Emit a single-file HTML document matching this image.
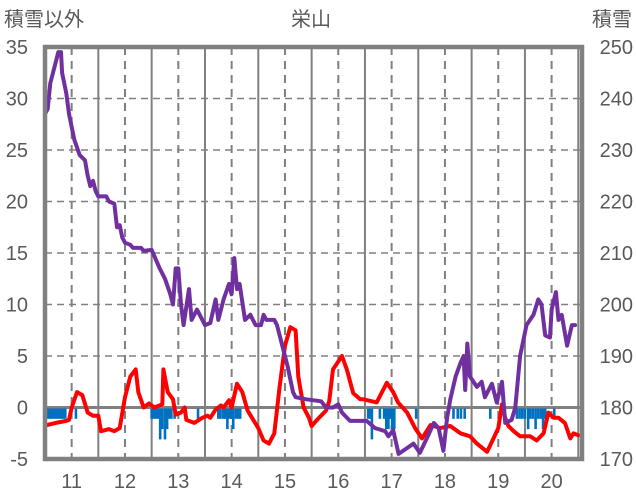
<!DOCTYPE html>
<html><head><meta charset="utf-8"><style>
body{margin:0;background:#fff;}
svg{display:block;font-family:"Liberation Sans","Noto Sans CJK JP",sans-serif;}
</style></head><body>
<svg id="chart" width="636" height="501" viewBox="0 0 636 501" xmlns="http://www.w3.org/2000/svg">
<text x="4" y="26" font-size="20" fill="#595959">積雪以外</text>
<text x="311" y="26" font-size="20" fill="#595959" text-anchor="middle">栄山</text>
<text x="632" y="26" font-size="20" fill="#595959" text-anchor="end">積雪</text>
<g id="grid"></g>
<g id="bars"></g>
<g id="lines"></g>
<g id="axes"></g>
</svg>
<script>
const xTicks=[11,12,13,14,15,16,17,18,19,20];
const leftTicks=[-5,0,5,10,15,20,25,30,35];
const rightTicks=[170,180,190,200,210,220,230,240,250];
const redT=[10.5,10.7,10.9,10.95,11.0,11.1,11.2,11.3,11.4,11.5,11.55,11.7,11.8,11.9,12.0,12.1,12.2,12.25,12.35,12.45,12.55,12.7,12.72,12.8,12.9,12.95,13.05,13.12,13.15,13.3,13.45,13.55,13.6,13.7,13.8,13.85,13.95,14.0,14.1,14.2,14.3,14.5,14.6,14.7,14.8,14.9,15.0,15.1,15.2,15.25,15.35,15.45,15.5,15.6,15.77,15.83,15.9,16.07,16.16,16.28,16.41,16.47,16.72,16.91,17.03,17.12,17.29,17.44,17.57,17.73,17.91,18.1,18.29,18.47,18.6,18.79,18.91,19.0,19.07,19.13,19.19,19.29,19.41,19.6,19.72,19.85,19.94,20.04,20.13,20.25,20.35,20.41,20.5];
const redV=[-1.75,-1.5,-1.3,-1.2,0,1.5,1.2,-0.5,-0.8,-0.8,-2.3,-2.1,-2.3,-2,1,3,3.7,1.5,0,0.4,0,0.3,3.7,1.5,0.8,-0.7,-0.5,0,-1.2,-1.5,-1,-0.8,-1,-0.2,0.2,0,0.7,0,2.3,1.5,-0.3,-2,-3.2,-3.5,-2.5,2,6,7.8,7.5,3,0,-1,-1.8,-1.2,-0.3,0.6,3.7,5,3.7,1.4,0.8,0.8,0.5,2.4,1.5,0.5,-0.5,-2,-3,-1.7,-2,-1.8,-2.5,-2.8,-3.5,-4.3,-3,-2,0.3,-1,-1.8,-2.3,-2.8,-2.8,-3.2,-2.5,-0.5,-1,-1,-1.5,-3,-2.5,-2.7];
const snowT=[10.5,10.55,10.6,10.65,10.7,10.75,10.8,10.82,10.9,10.95,11.05,11.15,11.25,11.3,11.35,11.4,11.45,11.5,11.65,11.7,11.8,11.85,11.9,11.95,12.0,12.1,12.15,12.3,12.35,12.5,12.65,12.75,12.85,12.9,12.95,13.0,13.05,13.1,13.2,13.25,13.35,13.5,13.6,13.7,13.75,13.85,13.95,14.0,14.05,14.1,14.15,14.25,14.35,14.45,14.55,14.6,14.65,14.8,14.85,14.95,15.05,15.15,15.2,15.4,15.68,15.77,15.9,16.0,16.07,16.22,16.53,16.69,16.88,16.94,17.03,17.13,17.41,17.53,17.66,17.79,17.88,17.97,18.04,18.1,18.2,18.29,18.35,18.38,18.42,18.47,18.6,18.69,18.75,18.88,18.97,19.07,19.13,19.25,19.32,19.41,19.53,19.66,19.75,19.81,19.88,19.97,20.0,20.08,20.13,20.19,20.29,20.38,20.44];
const snowV=[237,238,243,245,247,249,249,245,241,237,232,229,228,225,223,224,222,221,221,220,219.6,215,215.4,213,212,211.6,211,211,210.4,210.6,207,205,202,200,207,207,200,196,203,197,199,196,196.4,201,197,201,204,202,209,203,204,197,198,196,196,198,197,197,196,192,188,183,182,181.6,181.2,180,180,180.6,179,177.4,177.4,176,175.4,174.4,175.6,171,173,171.2,174,177,176,171.6,178,181.6,186,188.6,190,183.4,192.4,186,184,185,182,184.6,181,185,177,177.6,180,190,196,198,201,200,194,193.6,199,202.4,197,198,192,196,196];
const barT=[10.56,10.6,10.64,10.68,10.72,10.76,10.8,10.84,10.88,11.08,12.5,12.54,12.58,12.62,12.66,12.7,12.75,12.79,12.83,12.87,12.93,13.37,13.75,13.79,13.84,13.88,13.92,13.96,14.0,14.03,14.08,14.12,14.16,16.56,16.6,16.63,16.78,16.86,16.9,16.94,16.97,17.01,17.05,17.46,18.16,18.24,18.3,18.37,18.85,19.35,19.4,19.45,19.5,19.56,19.6,19.65,19.7,19.75,19.8,19.84,19.88,20.05];
const barV=[-1,-1,-1,-1,-1,-1,-1,-1,-1,-1,-1,-1,-1,-1,-3,-2,-3,-2,-1,-1,-1,-1,-1,-1,-1,-1,-2,-1,-1,-2,-1,-1,-1,-1,-1,-3,-1,-1,-2,-2,-1,-2,-2,-1,-1,-1,-1,-1,-1,-1,-1,-1,-1,-2,-1,-1,-2,-1,-1,-2,-1,-1];

const NS="http://www.w3.org/2000/svg";
const X0=45,X1=582,Y0=47,Y1=459;
const tMin=10.5,tMax=20.57;
const xs=t=>X0+(t-tMin)/(tMax-tMin)*(X1-X0);
const yL=v=>Y1-(v+5)/40*(Y1-Y0);
const yR=v=>Y1-(v-170)/80*(Y1-Y0);
function mk(tag,attrs,parent){const e=document.createElementNS(NS,tag);for(const k in attrs)e.setAttribute(k,attrs[k]);parent.appendChild(e);return e;}
const grid=document.getElementById('grid'),axes=document.getElementById('axes'),bars=document.getElementById('bars'),lines=document.getElementById('lines');
leftTicks.forEach(v=>{
  const l=mk('line',{x1:X0,x2:X1,y1:yL(v),y2:yL(v),stroke:'#808080','stroke-width':v===0?3:1.5,'stroke-dasharray':v===0?'':'7,5'},grid);
  
  
  const t=mk('text',{x:28,y:yL(v)+7,'font-size':20,fill:'#595959','text-anchor':'end'},axes);
  t.textContent=v;
  
  
});
rightTicks.forEach(v=>{
  const t=mk('text',{x:633,y:yR(v)+7,'font-size':20,fill:'#595959','text-anchor':'end'},axes);
  t.textContent=v;
  
  
});
xTicks.forEach(d=>{
  const l=mk('line',{x1:xs(d),x2:xs(d),y1:Y0,y2:Y1,stroke:'#808080','stroke-width':2,'stroke-dasharray':'8,6'},grid);
  
  
  const s=mk('line',{x1:xs(d+0.5),x2:xs(d+0.5),y1:Y0,y2:Y1,stroke:'#808080','stroke-width':2},grid);
  
  
  const t=mk('text',{x:xs(d),y:488,'font-size':20,fill:'#595959','text-anchor':'middle'},axes);
  t.textContent=d;
  
  
});
const fr=mk('rect',{x:X0,y:Y0,width:X1-X0,height:Y1-Y0,fill:'none',stroke:'#808080','stroke-width':4.5},axes);


barT.forEach((t,i)=>{
  const r=mk('rect',{x:xs(t)-1.3,y:yL(0)+1,width:2.6,height:yL(barV[i])-yL(0),fill:'#0070C0'},bars);
  
  
});
function path(ts,vs,f,color,name){
  const d=ts.map((t,i)=>(i?'L':'M')+xs(t).toFixed(1)+','+f(vs[i]).toFixed(1)).join('');
  const p=mk('path',{d:d,fill:'none',stroke:color,'stroke-width':4,'stroke-linejoin':'round','stroke-linecap':'round'},lines);
  
  
}
path(redT,redV,yL,'#FF0000','temperature-line');
path(snowT,snowV,yR,'#7030A0','snow-depth-line');
</script>
</body></html>
